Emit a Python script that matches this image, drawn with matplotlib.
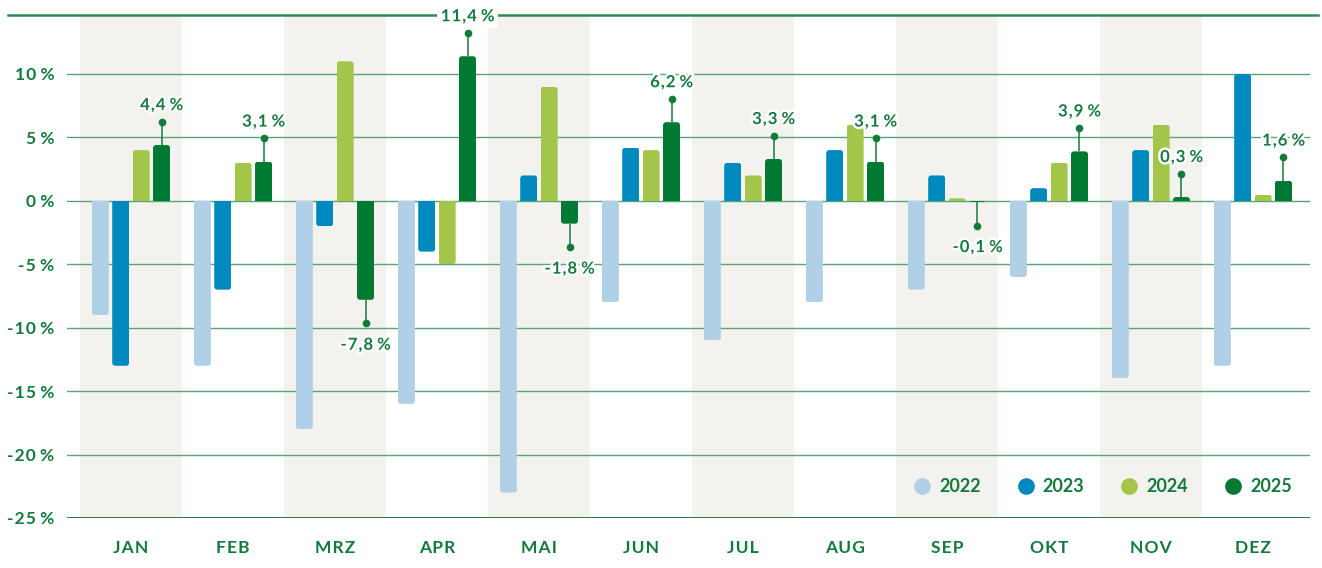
import matplotlib
matplotlib.use("Agg")
import matplotlib.pyplot as plt
from matplotlib.patches import FancyBboxPatch
from matplotlib.lines import Line2D
import matplotlib.patheffects as pe
import numpy as np

# ---------------- data ----------------
months = ['JAN', 'FEB', 'MRZ', 'APR', 'MAI', 'JUN', 'JUL', 'AUG', 'SEP', 'OKT', 'NOV', 'DEZ']
years = ['2022', '2023', '2024', '2025']
v2022 = [-9, -13, -18, -16, -23, -8, -11, -8, -7, -6, -14, -13]
v2023 = [-13, -7, -2, -4, 2, 4.2, 3, 4, 2, 1, 4, 10]
v2024 = [4, 3, 11, -5, 9, 4, 2, 6, 0.2, 3, 6, 0.5]
v2025 = [4.4, 3.1, -7.8, 11.4, -1.8, 6.2, 3.3, 3.1, -0.1, 3.9, 0.3, 1.6]
yticks = [10, 5, 0, -5, -10, -15, -20, -25]

# ---------------- style ----------------
plt.rcParams['font.family'] = ['Lato', 'DejaVu Sans']
GREEN = '#137a3c'
colors = ['#b0d0e7', '#0089bf', '#a3c549', '#007a33']
BAND = '#f3f2ee'
GRID = '#55a672'
HS = '\u200a'


def spaced(s):
    return HS.join(s)


fig = plt.figure(figsize=(13.22, 5.68), dpi=100)
L, R, B, T = 67, 1310, 518, 15
W, H = 1322, 568
ax = fig.add_axes([L / W, 1 - B / H, (R - L) / W, (B - T) / H])

ymin, ymax = -25, 14.65
xmin, xmax = -0.627, 11.56
ax.set_xlim(xmin, xmax)
ax.set_ylim(ymin, ymax)

x = np.arange(len(months))

# alternating month bands
for i in x:
    if i % 2 == 0:
        ax.axvspan(i - 0.5, i + 0.5, color=BAND, zorder=0, lw=0)

# gridlines
for t in yticks:
    if t == -25:
        continue
    ax.axhline(t, color=GRID, lw=1.0, zorder=1)
ax.axhline(-25, color='#1b6a3a', lw=1.3, zorder=1)

# bars with rounded far end
px_per_x = (R - L) / (xmax - xmin)
px_per_y = (B - T) / (ymax - ymin)
rad_px = 3.0
rx = rad_px / px_per_x
aspect = (rad_px / px_per_y) / rx
width = 0.167
offsets = [-0.3, -0.1, 0.1, 0.3]
series = [v2022, v2023, v2024, v2025]
for vals, off, col in zip(series, offsets, colors):
    bars = ax.bar(x + off, vals, width=width, color=col, zorder=3, lw=0)
    for rect, v in zip(bars.patches, vals):
        rect.set_visible(False)
        x0 = rect.get_x()
        ry = rx * aspect
        ext = 2.2 * ry
        if v >= 0:
            y0, h = -ext, v + ext
        else:
            y0, h = v, -v + ext
        fb = FancyBboxPatch((x0, y0), width, h,
                            boxstyle=f"round,pad=0,rounding_size={rx}",
                            mutation_aspect=aspect, fc=col, ec='none', zorder=3)
        ax.add_patch(fb)
        fb.set_clip_path(rect)

# annotations for 2025
stem = 1.85
halo = [pe.withStroke(linewidth=3.5, foreground='white')]
for xi, v in zip(x + offsets[3], v2025):
    s = 1 if v >= 0 else -1
    yd = v + s * stem
    ax.plot([xi, xi], [v, yd], color=GREEN, lw=1.1, zorder=4, solid_capstyle='butt')
    ax.plot([xi], [yd], 'o', color=GREEN, ms=4.5, zorder=5)
    lbl = spaced(f"{v:.1f}".replace('.', ',')) + ' %'
    dy = 16.5 if s > 0 else -21.5
    kw = {}
    if v > 10:
        kw['bbox'] = dict(fc='white', ec='none', pad=3)
    ax.annotate(lbl, (xi, yd), xytext=(0, dy * 72 / 100), textcoords='offset points',
                ha='center', va='center', fontsize=12, fontweight='bold', color=GREEN,
                zorder=6, path_effects=halo, annotation_clip=False, **kw)

# top line
ax.plot([(8 - L) / (R - L), (1318 - L) / (R - L)], [1, 1], transform=ax.transAxes,
        color='#2e8b52', lw=1.8, clip_on=False, zorder=2)

# axes styling
for sp in ax.spines.values():
    sp.set_visible(False)
ax.set_yticks(yticks)
ax.set_yticklabels([spaced(str(t)) + ' %' for t in yticks])
ax.set_xticks(x)
ax.set_xticklabels([spaced(m) for m in months])
ax.tick_params(axis='y', length=0, pad=9, labelsize=12.5, labelcolor=GREEN)
ax.tick_params(axis='x', length=0, pad=16, labelsize=12.5, labelcolor=GREEN)
for lab in ax.get_xticklabels() + ax.get_yticklabels():
    lab.set_fontweight('bold')

# legend
handles = [Line2D([], [], marker='o', ls='none', color=c, ms=11) for c in colors]
leg = ax.legend(handles, years, ncol=4, frameon=False, loc='center left',
                bbox_to_anchor=((913 - L) / (R - L), (B - 487) / (B - T)),
                borderpad=0, borderaxespad=0, handlelength=1.0, handletextpad=0.45,
                columnspacing=1.98, prop={'size': 13, 'weight': 'bold'})
for t in leg.get_texts():
    t.set_color(GREEN)

fig.savefig('out.png', dpi=100)
